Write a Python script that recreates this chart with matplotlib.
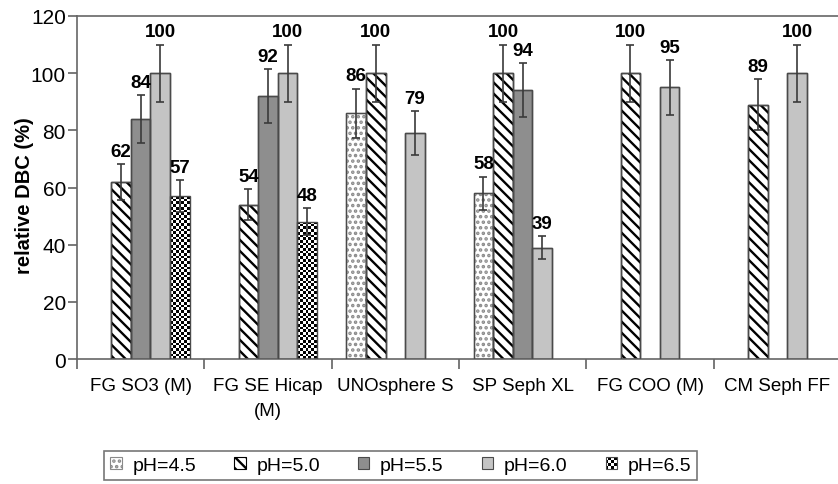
import numpy as np
import matplotlib
matplotlib.use('Agg')
import matplotlib.pyplot as plt
from matplotlib.patches import Patch, Rectangle
from matplotlib.legend_handler import HandlerBase

plt.rcParams['font.family'] = ['Liberation Sans', 'DejaVu Sans']
plt.rcParams['hatch.linewidth'] = 1.7

# --- datos ---
categories = ["FG SO3 (M)", "FG SE Hicap\n(M)", "UNOsphere S", "SP Seph XL", "FG COO (M)", "CM Seph FF"]
series_names = ["pH=4.5", "pH=5.0", "pH=5.5", "pH=6.0", "pH=6.5"]
nan = np.nan
ph45 = [nan, nan, 86, 58, nan, nan]
ph50 = [62, 54, 100, 100, 100, 89]
ph55 = [84, 92, nan, 94, nan, nan]
ph60 = [100, 100, 79, 39, 95, 100]
ph65 = [57, 48, nan, nan, nan, nan]
err45 = [nan, nan, 8.6, 5.8, nan, nan]
err50 = [6.2, 5.4, 10, 10, 10, 9]
err55 = [8.4, 9.3, nan, 9.4, nan, nan]
err60 = [10, 10, 7.7, 4, 9.5, 10]
err65 = [5.7, 4.7, nan, nan, nan, nan]

values = [ph45, ph50, ph55, ph60, ph65]
errors = [err45, err50, err55, err60, err65]

EDGE = '#4a4a4a'
styles = [
    dict(facecolor='white', edgecolor='#8a8a8a', hatch='...'),
    dict(facecolor='white', edgecolor='black', hatch='\\\\\\'),
    dict(facecolor='#8e8e8e', edgecolor=EDGE, hatch=None),
    dict(facecolor='#c4c4c4', edgecolor=EDGE, hatch=None),
    None,  # tablero de ajedrez
]


class CheckerHandler(HandlerBase):
    def create_artists(self, legend, orig_handle, xdescent, ydescent, width, height, fontsize, trans):
        arts = []
        n = 4
        cw, ch = width / n, height / n
        for i in range(n):
            for j in range(n):
                if (i + j) % 2 == 0:
                    arts.append(Rectangle((-xdescent + i * cw, -ydescent + j * ch), cw, ch,
                                          facecolor='black', edgecolor='none', transform=trans))
        arts.append(Rectangle((-xdescent, -ydescent), width, height, facecolor='none',
                              edgecolor=EDGE, lw=0.8, transform=trans))
        return arts


fig = plt.figure(figsize=(8.38, 4.85), dpi=100)
ax = fig.add_axes([77 / 838, 125 / 485, 764 / 838, 343 / 485])

x = np.arange(len(categories))
w = 0.154
for k in range(5):
    xs = x + (k - 2) * w
    vals = np.array(values[k], dtype=float)
    errs = np.array(errors[k], dtype=float)
    if styles[k] is not None:
        ax.bar(xs, vals, w, lw=1.0, zorder=2, **styles[k])
        ax.bar(xs, vals, w, facecolor='none', edgecolor=EDGE, lw=1.0, zorder=3)
    else:
        # pH=6.5: tablero
        for xi, v in zip(xs, vals):
            if np.isnan(v):
                continue
            rect = ax.bar([xi], [v], w, facecolor='none', edgecolor=EDGE, lw=1.0, zorder=3)[0]
            ncols = 7
            nrows = int(round(v / 0.95))
            chk = (np.add.outer(np.arange(nrows), np.arange(ncols)) % 2).astype(float)
            im = ax.imshow(chk, extent=(xi - w / 2, xi + w / 2, 0, v), cmap='gray',
                           interpolation='nearest', aspect='auto', zorder=2)
            im.set_clip_path(rect)
    ax.errorbar(xs, vals, yerr=errs, fmt='none', ecolor='#3a3a3a', elinewidth=1.2,
                capsize=3, capthick=1.2, zorder=4)
    for xi, v, e in zip(xs, vals, errs):
        if np.isnan(v):
            continue
        ax.annotate(f"{v:.0f}", (xi, v + e), xytext=(0, 3), textcoords='offset points',
                    ha='center', va='bottom', fontsize=13.5, fontweight='bold', zorder=5)

ax.set_xlim(-0.5, len(categories) - 0.5)
ax.set_ylim(0, 120)
ax.set_yticks(np.arange(0, 121, 20))
ax.set_xticks(np.arange(-0.5, len(categories), 1.0))
ax.set_xticklabels([])
ax.set_xticks(x, minor=True)
ax.set_xticklabels(categories, minor=True, fontsize=13.5, linespacing=1.6)
ax.tick_params(axis='x', which='minor', length=0, pad=13)
ax.tick_params(axis='x', which='major', length=7, width=1.1, color='#555555', direction='out')
ax.tick_params(axis='y', length=6.5, width=1.1, color='#555555', labelsize=15, pad=1.5)

for side in ['left', 'bottom', 'top']:
    ax.spines[side].set_color('#666666')
    ax.spines[side].set_linewidth(1.2)
ax.spines['right'].set_visible(False)

ax.set_ylabel("relative DBC (%)", fontsize=14.5, fontweight='bold')
ax.yaxis.set_label_coords(-0.056, 0.48)

handles = []
for k in range(5):
    if styles[k] is not None:
        handles.append(Patch(**styles[k], lw=0.8))
    else:
        handles.append(Patch(facecolor='white', edgecolor=EDGE))
leg = fig.legend(handles, series_names, ncol=5, loc='upper left',
                 bbox_to_anchor=(104 / 838, 1 - 452 / 485), fontsize=14,
                 handlelength=0.6, handleheight=0.6, handletextpad=0.55,
                 columnspacing=1.95, frameon=True, fancybox=False, borderpad=0.3,
                 borderaxespad=0, handler_map={handles[4]: CheckerHandler()})
leg.get_frame().set_edgecolor('#555555')
leg.get_frame().set_linewidth(1.2)

fig.savefig('out.png', dpi=100)
